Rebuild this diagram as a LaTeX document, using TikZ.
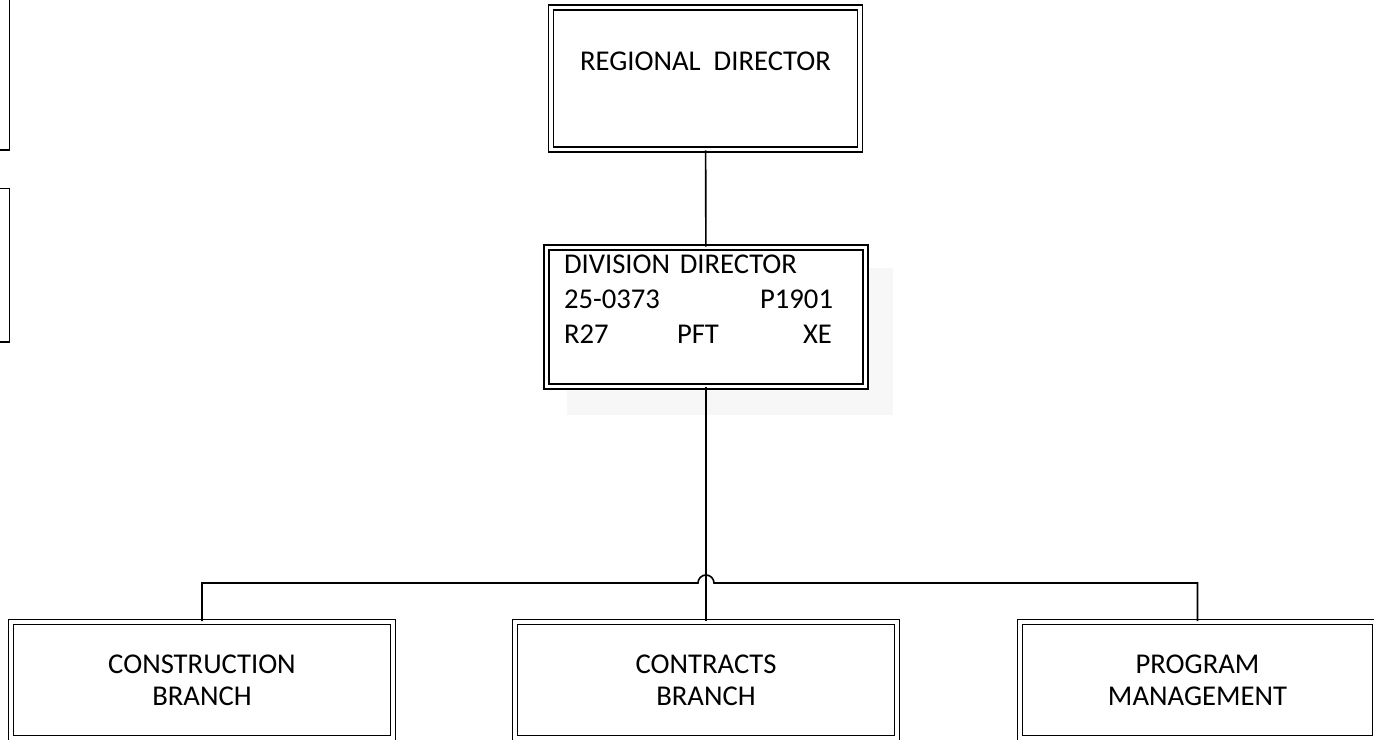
\documentclass[tikz,border=0pt]{standalone}
\usepackage{fontspec}
\setmainfont{Carlito}
\usetikzlibrary{calc}
\tikzset{post/.style={draw,double,double distance=2.4pt,line width=1.15pt,fill=white,inner sep=0pt},
  wire/.style={line width=1.2pt}}

\begin{document}
\begin{tikzpicture}[x=0.75pt,y=-0.75pt]
\useasboundingbox (0,0) rectangle (1374,739);
\clip (0,0) rectangle (1374,739);
\fill[black!3] (567,268) rectangle (893,415);
\draw[wire] (-30,-10) rectangle (9.5,150);
\draw[wire] (-30,188.5) rectangle (9.5,342);
\node[post,align=center,font=\fontsize{21.5}{25.9}\selectfont,minimum width=231.75pt,minimum height=106.5pt] (rd) at (705.5,78.5) {REGIONAL\ \ DIRECTOR\\\mbox{}};
\node[post,align=left,text width=213pt,font=\fontsize{21.5}{26.5}\selectfont,minimum width=239.25pt,minimum height=104.25pt] (div) at (706,317)
  {DIVISION DIRECTOR\\25-0373\hfill P1901\hspace{11.25pt}\mbox{}\\\makebox[84.75pt][l]{R27}PFT\hfill XE\hspace{12pt}\mbox{}\\\mbox{}};
\node[post,align=center,font=\fontsize{21.5}{24}\selectfont,minimum width=286.5pt,minimum height=87pt] (cons) at (202,680) {CONSTRUCTION\\BRANCH};
\node[post,align=center,font=\fontsize{21.5}{24}\selectfont,minimum width=286.5pt,minimum height=87pt] (contr) at (706,680) {CONTRACTS\\BRANCH};
\node[post,align=center,font=\fontsize{21.5}{24}\selectfont,minimum width=266.25pt,minimum height=87pt] (pm) at (1197.5,680) {PROGRAM\\MANAGEMENT};
\coordinate (hop) at (706,583);
\draw[wire] (rd) -- (div);
\draw[wire] (div) -- (contr);
\draw[wire] (cons.north) |- ([xshift=-6pt]hop) arc[start angle=180,end angle=0,radius=6pt] -| (pm.north);
\end{tikzpicture}
\end{document}
